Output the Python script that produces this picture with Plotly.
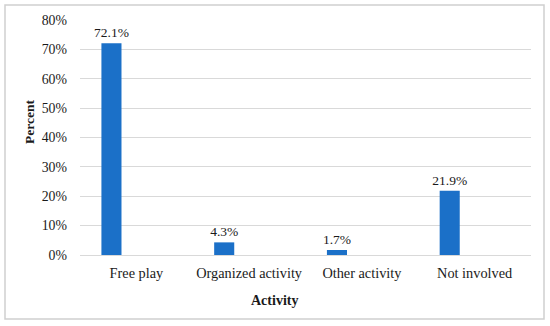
import plotly.graph_objects as go

categories = ["Free play", "Organized activity", "Other activity", "Not involved"]
values = [72.1, 4.3, 1.7, 21.9]
labels = ["72.1%", "4.3%", "1.7%", "21.9%"]
y_ticks = [0, 10, 20, 30, 40, 50, 60, 70, 80]
y_tick_text = ["0%", "10%", "20%", "30%", "40%", "50%", "60%", "70%", "80%"]

W, H = 550, 326
L, R, T, B = 80, 19, 20, 71
pw, ph = W - L - R, H - T - B

def px(x):
    return (x - L) / pw

def py(y):
    return (H - B - y) / ph

font = "Liberation Serif, Times New Roman, serif"

fig = go.Figure()
fig.add_trace(go.Bar(
    x=categories, y=values, text=labels, textposition="outside",
    constraintext="none",
    textfont=dict(family=font, size=13.5, color="#1a1a1a"),
    marker=dict(color="#1b70c8", line=dict(width=0)),
    width=0.178, offset=-0.31, cliponaxis=False,
))

fig.update_layout(
    width=W, height=H,
    margin=dict(l=L, r=R, t=T, b=B),
    paper_bgcolor="white", plot_bgcolor="white",
    showlegend=False,
    font=dict(family=font, size=13, color="#1a1a1a"),
    xaxis=dict(showgrid=False, showline=False, ticks="", tickfont=dict(size=14.3),
               ticklabelstandoff=8),
    yaxis=dict(range=[0, 80], tickmode="array", tickvals=y_ticks, ticktext=y_tick_text,
               showgrid=True, gridcolor="#d9d9d9", gridwidth=1,
               zeroline=True, zerolinecolor="#d9d9d9", zerolinewidth=1,
               showline=False, ticks="", tickfont=dict(size=13.8),
               ticklabelstandoff=12),
    annotations=[
        dict(text="<b>Percent</b>", x=px(30), y=py(122), xref="paper", yref="paper",
             showarrow=False, textangle=-90, font=dict(size=13.5),
             xanchor="center", yanchor="middle"),
        dict(text="<b>Activity</b>", x=px(274.5), y=py(300), xref="paper", yref="paper",
             showarrow=False, font=dict(size=14),
             xanchor="center", yanchor="middle"),
    ],
    shapes=[
        dict(type="rect", xref="paper", yref="paper",
             x0=px(5), x1=px(544), y0=py(319), y1=py(5),
             line=dict(color="#d0d0d0", width=1.5), layer="below"),
    ],
)

fig.write_html("out.html",
               config={"displayModeBar": False},
               post_script="document.body.style.margin='0';document.body.style.overflow='hidden';")
